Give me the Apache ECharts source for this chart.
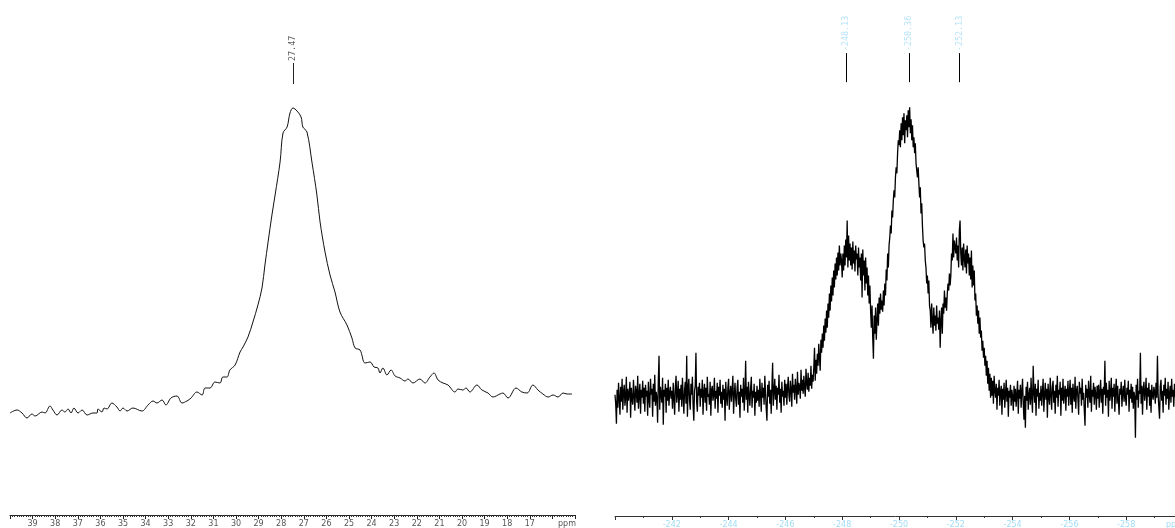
<!DOCTYPE html>
<html>
<head>
<meta charset="utf-8">
<script src="https://cdn.jsdelivr.net/npm/echarts@6/dist/echarts.min.js"></script>
<style>
html,body{margin:0;padding:0;background:#fff;}
#chart{width:1175px;height:528px;}
</style>
</head>
<body>
<div id="chart"></div>
<script>
// ---- Left spectrum (ppm, intensity) ----
const leftPpm = [40.00,39.69,39.47,39.25,39.03,38.89,38.58,38.45,38.23,38.10,37.92,37.70,37.57,37.43,37.30,37.17,36.99,36.81,36.59,36.33,36.15,36.11,35.93,35.84,35.71,35.49,35.27,35.13,35.00,34.82,34.56,34.16,33.89,33.67,33.50,33.27,33.10,32.88,32.61,32.39,32.17,31.99,31.73,31.50,31.37,31.15,30.93,30.71,30.58,30.40,30.27,30.04,29.82,29.69,29.47,29.25,29.03,28.85,28.72,28.58,28.41,28.27,28.05,27.92,27.74,27.61,27.48,27.30,27.12,27.04,26.86,26.64,26.42,26.28,26.06,25.84,25.62,25.40,25.09,24.87,24.73,24.51,24.29,24.07,23.89,23.72,23.63,23.50,23.32,23.14,22.96,22.74,22.52,22.39,22.17,21.86,21.64,21.42,21.24,21.06,20.84,20.62,20.31,20.18,19.96,19.82,19.65,19.34,19.12,18.85,18.63,18.32,18.19,17.96,17.61,17.35,17.12,16.86,16.64,16.42,16.19,15.97,15.75,15.53,15.35,15.13];
const leftIntensity = [102,105,102,97,101,99,103,102,109,105,100,105,103,106,102,107,102,105,100,102,102,106,103,107,106,112,108,104,107,104,107,104,110,114,112,115,110,117,119,112,114,117,123,120,127,127,133,132,138,138,145,150,163,168,178,193,210,227,250,273,300,320,353,382,388,402,407,404,398,388,383,353,320,293,263,240,223,203,190,177,167,165,152,153,148,147,142,147,140,145,139,137,134,136,132,136,132,138,142,135,132,130,123,126,125,127,123,130,125,122,118,121,122,117,127,123,122,130,125,121,118,120,118,122,121,121];

// ---- Right spectrum: regular sampling from -240 ppm, step -0.025 ppm (40 points per ppm) ----
const rightStartPpm = -240;
const rightStepPpm = -0.025;
const rightIntensity = [
121,112,92,126,108,133,117,101,129,114,137,106,124,131,110,119,139,103,127,115,122,134,98,128,117,111,136,120,105,130,124,113,140,107,121,132,102,126,118,135,
112,128,104,131,119,125,100,134,116,108,137,121,127,99,132,114,141,110,124,118,93,135,160,106,129,121,113,138,91,126,119,132,103,128,115,136,110,123,129,117,
125,107,133,118,101,129,140,113,122,135,104,127,116,131,109,138,120,102,126,134,112,160,99,128,137,115,106,132,121,139,110,95,125,130,163,114,104,129,120,133,
109,127,118,136,101,124,132,113,128,105,139,119,122,111,134,100,126,130,115,121,138,107,125,117,133,103,129,120,136,112,124,108,131,116,127,95,134,119,110,128,
137,106,123,130,114,126,140,102,120,133,117,109,128,136,111,124,98,131,119,127,113,138,105,122,155,116,129,103,134,121,110,127,139,108,125,118,132,100,124,113,
130,115,126,109,137,121,104,133,118,128,111,140,123,107,95,131,119,135,112,126,102,129,153,110,124,137,116,130,106,128,121,141,113,127,103,134,119,125,110,136,
118,132,111,128,139,120,114,135,126,109,142,123,131,116,137,127,112,144,121,133,129,117,146,125,136,122,140,128,119,147,132,126,143,124,138,130,150,127,141,134,
148,168,135,156,142,162,150,172,158,145,176,163,182,168,190,175,197,183,205,188,212,198,222,205,230,214,238,220,245,228,252,236,258,240,263,245,270,250,262,255,
238,262,245,270,250,276,258,295,248,280,255,272,250,268,246,274,252,265,244,270,256,262,240,268,248,258,235,262,218,266,240,255,225,258,232,248,220,240,212,230,
205,188,210,178,157,200,182,208,176,195,212,190,218,202,222,206,215,204,225,210,232,220,246,235,262,248,270,278,290,282,305,298,315,325,318,338,348,342,362,375,
370,385,368,392,375,398,380,402,372,395,385,400,378,405,388,408,382,396,375,390,368,378,362,372,352,345,338,348,332,318,328,302,312,290,275,268,272,255,248,232,
240,222,235,210,205,188,212,195,182,208,190,200,185,210,192,198,186,205,168,195,208,182,212,202,225,208,218,205,222,232,225,242,230,240,262,255,282,258,275,268,
262,278,255,270,248,285,295,262,250,268,245,272,258,248,266,242,270,252,262,240,258,236,265,228,250,230,245,215,222,200,210,192,205,182,198,178,185,165,175,158,
168,150,160,140,155,132,148,125,142,118,138,120,135,112,140,125,118,132,106,128,120,136,110,124,130,101,127,116,133,108,122,136,114,128,99,125,118,131,110,126,
119,105,130,114,127,109,122,135,102,126,117,131,108,124,137,112,96,120,88,129,115,134,106,121,128,111,138,118,103,150,124,113,132,100,127,119,136,107,123,115,
130,110,124,137,104,121,133,116,127,98,132,119,111,138,122,106,129,135,113,125,102,131,118,140,109,126,121,134,100,128,115,137,112,123,130,105,127,119,135,110,
124,136,111,128,103,132,120,114,139,107,125,130,117,101,134,122,128,110,137,116,123,105,90,131,118,127,108,135,121,113,140,104,126,119,133,111,129,122,106,130,
117,131,108,124,136,113,127,102,129,121,155,110,133,118,126,99,135,115,122,138,107,128,119,132,104,125,137,112,130,116,101,127,121,134,109,124,130,114,136,118,
110,128,121,135,104,126,117,132,113,129,107,124,119,78,131,116,137,108,125,122,163,112,130,101,127,134,115,123,138,106,128,119,133,110,126,103,131,121,116,129,
124,112,133,118,160,121,108,97,129,136,115,125,103,131,120,138,111,127,117,134,106,122,130,113,137,119,126,109,132,121,116,128,105,135,123,118,130,112,127,120
];

// ---- Peak picks ----
const leftPeaks = [27.47];
const rightPeaks = [-248.13, -250.36, -252.13];

// ---- Axis settings ----
const leftAxisRange = [15, 40];
const rightAxisRange = [-260, -240];

const leftData = leftPpm.map((p, i) => [p, leftIntensity[i]]);
const rightData = rightIntensity.map((v, i) => [+(rightStartPpm + rightStepPpm * i).toFixed(3), v]);

const pickLow = {left: 431, right: 433};
const pickHigh = {left: 452, right: 462};

function pickLines(peaks, lo, hi, color) {
  return {
    symbol: ['none', 'none'],
    silent: true,
    animation: false,
    label: {show: false},
    lineStyle: {color: color, width: 1, type: 'solid'},
    data: peaks.map(p => [{coord: [p, lo]}, {coord: [p, hi]}])
  };
}

const chart = echarts.init(document.getElementById('chart'), null, {renderer: 'canvas'});
const option = {
  animation: false,
  backgroundColor: '#ffffff',
  grid: [
    {left: 10, right: 600, top: 0, bottom: 13, outerBoundsMode: 'none', containLabel: false},
    {left: 615, right: -8, top: 0, bottom: 12, outerBoundsMode: 'none', containLabel: false}
  ],
  xAxis: [
    {
      gridIndex: 0, type: 'value', min: leftAxisRange[0], max: leftAxisRange[1], interval: 1, inverse: true,
      splitLine: {show: false},
      axisLine: {show: true, lineStyle: {color: '#222', width: 1}},
      axisTick: {show: true, length: 4, lineStyle: {color: '#222'}},
      minorTick: {show: true, splitNumber: 10, length: 2, lineStyle: {color: '#333'}},
      axisLabel: {
        color: '#555', fontSize: 8, fontFamily: 'DejaVu Sans', margin: 5,
        formatter: v => (v === 40 || v === 16) ? '' : (v === 15 ? '{p|ppm}' : String(v)),
        rich: {p: {color: '#555', fontSize: 8, fontFamily: 'DejaVu Sans', padding: [0, 16, 0, 0]}}
      }
    },
    {
      gridIndex: 1, type: 'value', min: rightAxisRange[0], max: rightAxisRange[1], interval: 2, inverse: true,
      splitLine: {show: false},
      axisLine: {show: true, lineStyle: {color: '#333', width: 1}},
      axisTick: {show: true, length: 4, lineStyle: {color: '#333'}},
      minorTick: {show: true, splitNumber: 2, length: 2, lineStyle: {color: '#333'}},
      axisLabel: {
        color: '#a3dcf5', fontSize: 8, fontFamily: 'DejaVu Sans', margin: 5,
        formatter: v => v === -240 ? '' : (v === -260 ? '{p|ppm}' : String(v)),
        rich: {p: {color: '#a3dcf5', fontSize: 8, fontFamily: 'DejaVu Sans', padding: [0, 16, 0, 0]}}
      }
    }
  ],
  yAxis: [
    {gridIndex: 0, type: 'value', min: 0, max: 515, show: false},
    {gridIndex: 1, type: 'value', min: 0, max: 515, show: false}
  ],
  series: [
    {
      type: 'line', xAxisIndex: 0, yAxisIndex: 0, data: leftData,
      showSymbol: false, smooth: 0.35, sampling: false,
      lineStyle: {color: '#111', width: 1},
      markLine: pickLines(leftPeaks, pickLow.left, pickHigh.left, '#222')
    },
    {
      type: 'scatter', xAxisIndex: 0, yAxisIndex: 0, symbolSize: 0,
      data: leftPeaks.map(p => [p, pickHigh.left]),
      label: {
        show: true, position: 'top', distance: 2, rotate: 90, align: 'left', verticalAlign: 'middle',
        color: '#333', fontSize: 8.4, fontFamily: 'DejaVu Sans Mono',
        formatter: p => p.value[0].toFixed(2)
      }
    },
    {
      type: 'line', xAxisIndex: 1, yAxisIndex: 1, data: rightData,
      showSymbol: false, smooth: false, sampling: false,
      lineStyle: {color: '#000', width: 1.3},
      markLine: pickLines(rightPeaks, pickLow.right, pickHigh.right, '#000')
    },
    {
      type: 'scatter', xAxisIndex: 1, yAxisIndex: 1, symbolSize: 0,
      data: rightPeaks.map(p => [p, pickHigh.right]),
      label: {
        show: true, position: 'top', distance: 2, rotate: 90, align: 'left', verticalAlign: 'middle',
        color: '#a3dcf5', fontSize: 8.4, fontFamily: 'DejaVu Sans Mono',
        formatter: p => p.value[0].toFixed(2)
      }
    }
  ]
};
chart.setOption(option);
</script>
</body>
</html>
